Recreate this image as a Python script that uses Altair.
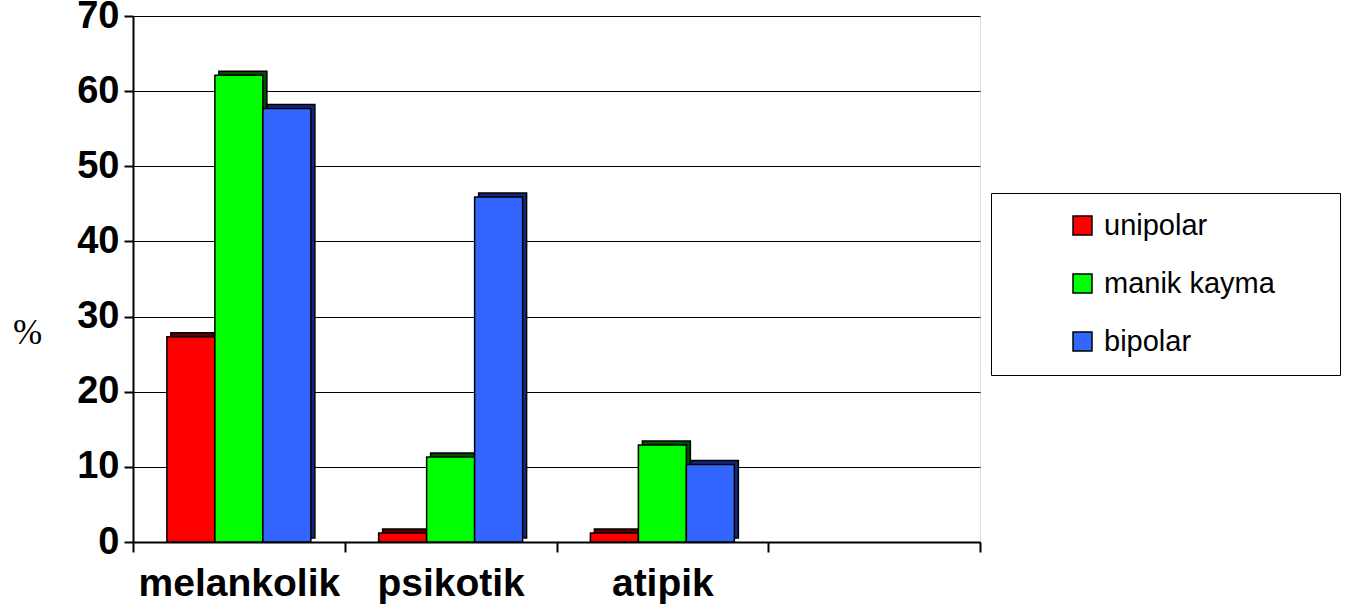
import altair as alt
import pandas as pd

# Depression subtypes by course group (%)
categories = ["melankolik", "psikotik", "atipik"]
slots = ["melankolik", "psikotik", "atipik", " "]  # fourth slot left empty
series = ["unipolar", "manik kayma", "bipolar"]
unipolar = [27.3, 1.2, 1.2]
manik_kayma = [62.1, 11.3, 12.9]
bipolar = [57.7, 45.9, 10.3]

front_colors = ["#FF0000", "#00FF00", "#3366FF"]
side_colors = ["#5a0000", "#005000", "#14287a"]

rows = []
for name, vals in zip(series, [unipolar, manik_kayma, bipolar]):
    for cat, v in zip(categories, vals):
        rows.append({"kategori": cat, "grup": name, "yuzde": v})
df = pd.DataFrame(rows)

W, H = 847, 526
band = W / len(slots)
depth = 4

x_enc = alt.X(
    "kategori:N",
    scale=alt.Scale(domain=slots, paddingInner=0, paddingOuter=0),
    axis=alt.Axis(
        title=None,
        tickBand="extent",
        labelAngle=0,
        labelFont="Liberation Sans",
        labelFontWeight="bold",
        labelFontSize=39,
        labelColor="black",
        labelPadding=12,
        labelLimit=0,
        tickSize=10,
        tickColor="black",
        tickWidth=2,
        domainColor="black",
        domainWidth=2,
        grid=False,
    ),
)


def offset_enc(shift):
    return alt.XOffset(
        "grup:N",
        sort=series,
        scale=alt.Scale(
            domain=series, paddingInner=0, paddingOuter=0.706,
            range=[shift, band + shift],
        ),
    )


y_axis = alt.Axis(
    values=[0, 10, 20, 30, 40, 50, 60, 70],
    title="%",
    titleAngle=0,
    titleFont="Liberation Serif",
    titleFontWeight="normal",
    titleFontSize=35,
    titleColor="black",
    titleAlign="center",
    titleBaseline="middle",
    titleX=-106,
    titleY=316,
    labelFont="Liberation Sans",
    labelFontWeight="bold",
    labelFontSize=38,
    labelColor="black",
    labelPadding=5,
    tickSize=9,
    tickColor="black",
    tickWidth=2,
    domainColor="black",
    domainWidth=2,
    grid=True,
    gridColor="black",
    gridWidth=1.2,
)
y_enc = alt.Y("yuzde:Q", scale=alt.Scale(domain=[0, 70], nice=False), axis=y_axis)

# darker block shifted up/right gives the bars their depth
side = alt.Chart(df).mark_bar(
    yOffset=-depth, stroke="black", strokeWidth=1.5
).encode(
    x=x_enc,
    xOffset=offset_enc(depth),
    y=y_enc,
    color=alt.Color(
        "grup:N", scale=alt.Scale(domain=series, range=side_colors), legend=None
    ),
)

front = alt.Chart(df).mark_bar(stroke="black", strokeWidth=1.5).encode(
    x=x_enc,
    xOffset=offset_enc(0),
    y=y_enc,
    color=alt.Color(
        "grup:N",
        sort=series,
        scale=alt.Scale(domain=series, range=front_colors),
        legend=alt.Legend(
            title="\u00a0",
            titleOrient="right",
            titlePadding=47,
            titleFontSize=10,
            orient="none",
            legendX=858,
            legendY=177,
            padding=18,
            strokeColor="black",
            fillColor="white",
            symbolType="square",
            symbolSize=361,
            symbolStrokeColor="black",
            symbolStrokeWidth=1.5,
            symbolOffset=59,
            labelOffset=7,
            labelFont="Liberation Sans",
            labelFontSize=29,
            labelColor="black",
            rowPadding=28,
            labelLimit=400,
        ),
    ),
)

chart = (
    alt.layer(side, front)
    .resolve_scale(color="independent", xOffset="independent")
    .properties(
        width=W,
        height=H,
        autosize=alt.AutoSizeParams(type="none"),
        padding={"left": 133, "top": 16, "right": 366, "bottom": 71},
    )
    .configure_view(stroke="#8c8c8c", strokeWidth=2)
    .configure(background="white")
)

chart.save("out.html", embed_options={"renderer": "svg", "actions": False})
